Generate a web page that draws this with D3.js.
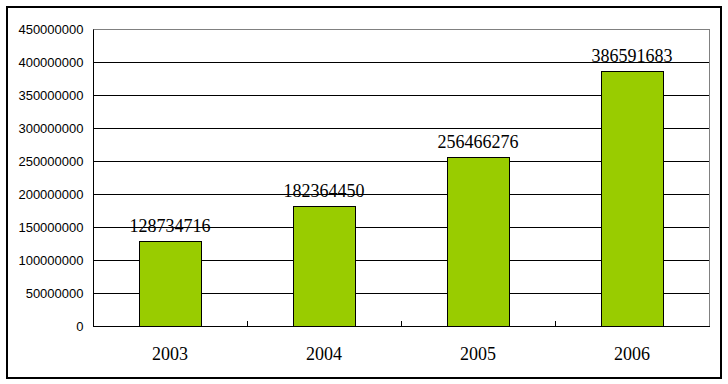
<!DOCTYPE html>
<html>
<head>
<meta charset="utf-8">
<script src="https://cdn.jsdelivr.net/npm/d3@7"></script>
<style>
html,body{margin:0;padding:0;background:#fff;}
svg{display:block;}
</style>
</head>
<body>
<svg id="chart" width="728" height="384"></svg>
<script>
const categories = ["2003", "2004", "2005", "2006"];
const values = [128734716, 182364450, 256466276, 386591683];
const yTicks = [0, 50000000, 100000000, 150000000, 200000000, 250000000, 300000000, 350000000, 400000000, 450000000];

const svg = d3.select("#chart");
const W = 728, H = 384;
const plot = {left: 93, top: 29, right: 709, bottom: 326};

// outer frame
svg.append("rect")
  .attr("x", 7).attr("y", 7).attr("width", 714).attr("height", 371)
  .attr("fill", "#fff").attr("stroke", "#000").attr("stroke-width", 2);

const x = d3.scaleBand().domain(categories).range([plot.left, plot.right]).paddingInner(0).paddingOuter(0);
const y = d3.scaleLinear().domain([0, 450000000]).range([plot.bottom, plot.top]);

// gridlines
svg.append("g").selectAll("line").data(yTicks.filter(d => d > 0)).join("line")
  .attr("x1", plot.left).attr("x2", plot.right)
  .attr("y1", d => Math.round(y(d)) + 0.5).attr("y2", d => Math.round(y(d)) + 0.5)
  .attr("stroke", d => d === 450000000 ? "#808080" : "#000").attr("stroke-width", 1);

// right plot border
svg.append("line")
  .attr("x1", plot.right + 0.5).attr("x2", plot.right + 0.5)
  .attr("y1", plot.top).attr("y2", plot.bottom)
  .attr("stroke", "#808080");

// y axis
const yAxis = d3.axisLeft(y).tickValues(yTicks).tickSize(0).tickPadding(10).tickFormat(d3.format("d"));
const gy = svg.append("g").attr("transform", `translate(${plot.left + 0.5},0.5)`).call(yAxis);
gy.select(".domain").attr("stroke", "#000").attr("d", `M0,${plot.top}V${plot.bottom}`);
gy.selectAll("text").attr("font-family", "'Liberation Sans', Arial, sans-serif").attr("font-size", "13px").attr("fill", "#000");

// bars
const barW = 62;
svg.append("g").selectAll("rect").data(values).join("rect")
  .attr("x", (d, i) => Math.round(x(categories[i]) + x.bandwidth() / 2 - barW / 2) + 0.5)
  .attr("y", d => Math.round(y(d)) + 0.5)
  .attr("width", barW)
  .attr("height", d => plot.bottom - Math.round(y(d)))
  .attr("fill", "#99CC00").attr("stroke", "#000").attr("stroke-width", 1);

// x axis
const xAxis = d3.axisBottom(x).tickSize(0).tickFormat(d => d);
const gx = svg.append("g").attr("transform", `translate(0,${plot.bottom + 0.5})`).call(xAxis);
gx.select(".domain").attr("stroke", "#000").attr("d", `M${plot.left},0H${plot.right + 1}`);
gx.selectAll("text").attr("font-family", "'Liberation Serif', 'Times New Roman', serif").attr("font-size", "18px").attr("fill", "#000").attr("dy", null).attr("y", 33);
// inner category ticks
svg.append("g").selectAll("line").data(categories.slice(1)).join("line")
  .attr("x1", d => Math.round(x(d)) + 0.5).attr("x2", d => Math.round(x(d)) + 0.5)
  .attr("y1", plot.bottom).attr("y2", plot.bottom - 5)
  .attr("stroke", "#000");

// value labels
svg.append("g").selectAll("text").data(values).join("text")
  .attr("x", (d, i) => x(categories[i]) + x.bandwidth() / 2)
  .attr("y", d => Math.round(y(d)) - 9)
  .attr("text-anchor", "middle")
  .attr("font-family", "'Liberation Serif', 'Times New Roman', serif")
  .attr("font-size", "18px").attr("fill", "#000")
  .text(d => d);
</script>
</body>
</html>
